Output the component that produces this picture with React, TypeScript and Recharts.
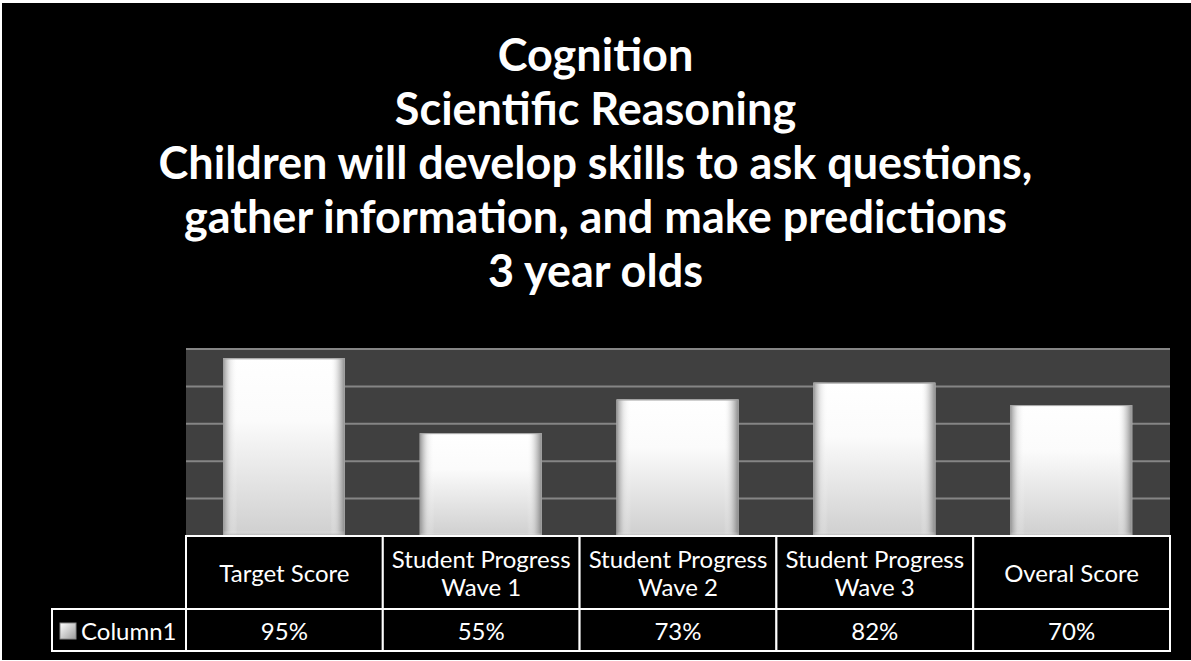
import { BarChart, Bar, XAxis, YAxis, CartesianGrid } from 'recharts';

const titleLines = [
  'Cognition',
  'Scientific Reasoning',
  'Children will develop skills to ask questions,',
  'gather information, and make predictions',
  '3 year olds',
];

const categories = [
  'Target Score',
  'Student Progress Wave 1',
  'Student Progress Wave 2',
  'Student Progress Wave 3',
  'Overal Score',
];
const headerLines = [
  ['Target Score'],
  ['Student Progress', 'Wave 1'],
  ['Student Progress', 'Wave 2'],
  ['Student Progress', 'Wave 3'],
  ['Overal Score'],
];
const seriesName = 'Column1';
const values = [0.95, 0.55, 0.73, 0.82, 0.7];
const valueLabels = ['95%', '55%', '73%', '82%', '70%'];
const yTicks = [0, 0.2, 0.4, 0.6, 0.8, 1];

const W = 1191;
const H = 661;
const PLOT_L = 186;
const PLOT_R = 1170;
const PLOT_T = 349;
const PLOT_B = 536;
const ROW1_B = 609;
const ROW2_B = 651;
const LEGEND_L = 52;
const FONT = 'Lato, "Open Sans", sans-serif';
const TABLE_FS = 24;

const data = categories.map((c, i) => ({ name: c, value: values[i] }));
const cellW = (PLOT_R - PLOT_L) / categories.length;

const BevelBar = (props: any) => {
  const { x, y, width, height } = props;
  if (!height) return null;
  return (
    <g>
      <rect x={x} y={y} width={width} height={height} fill="url(#barV)" />
      <rect x={x} y={y} width={width} height={height} fill="url(#barH)" />
      <rect x={x} y={y} width={width} height={height} fill="url(#barTop)" />
      <rect x={x + 0.5} y={y + 0.5} width={width - 1} height={height - 1} fill="none" stroke="#a0a0a0" strokeWidth={1} />
    </g>
  );
};

const TableTick = (props: any) => {
  const { x, index } = props;
  const left = x - cellW / 2;
  const lines = headerLines[index] || [];
  const midHeader = (PLOT_B + ROW1_B) / 2;
  const lh = 28;
  return (
    <g>
      <rect x={left} y={PLOT_B} width={cellW} height={ROW1_B - PLOT_B} fill="#000" stroke="#fff" strokeWidth={2} />
      <rect x={left} y={ROW1_B} width={cellW} height={ROW2_B - ROW1_B} fill="#000" stroke="#fff" strokeWidth={2} />
      {lines.map((l, k) => (
        <text
          key={k}
          x={x}
          y={midHeader + (k - (lines.length - 1) / 2) * lh}
          textAnchor="middle"
          dominantBaseline="central"
          fill="#fff"
          fontFamily={FONT}
          fontSize={TABLE_FS}
        >
          {l}
        </text>
      ))}
      <text
        x={x}
        y={(ROW1_B + ROW2_B) / 2}
        textAnchor="middle"
        dominantBaseline="central"
        fill="#fff"
        fontFamily={FONT}
        fontSize={TABLE_FS}
      >
        {valueLabels[index]}
      </text>
      {index === 0 && (
        <g>
          <rect x={LEGEND_L} y={ROW1_B} width={PLOT_L - LEGEND_L} height={ROW2_B - ROW1_B} fill="#000" stroke="#fff" strokeWidth={2} />
          <rect x={60} y={623} width={16} height={16} fill="url(#keyGrad)" stroke="#888" strokeWidth={1} />
          <text
            x={81}
            y={(ROW1_B + ROW2_B) / 2}
            dominantBaseline="central"
            fill="#fff"
            fontFamily={FONT}
            fontSize={TABLE_FS}
          >
            {seriesName}
          </text>
        </g>
      )}
    </g>
  );
};

export default function App() {
  return (
    <div style={{ position: 'absolute', left: 0, top: 0, width: W, height: H, background: '#fff' }}>
      <div style={{ position: 'absolute', left: 2, top: 3, width: W - 2, height: H - 4, background: '#000' }} />
      <div style={{ position: 'absolute', left: 0, top: 0 }}>
        <BarChart
          width={W}
          height={H}
          data={data}
          margin={{ top: PLOT_T, right: W - PLOT_R, left: PLOT_L, bottom: 10 }}
          barSize={122}
        >
          <defs>
            <linearGradient id="barV" x1="0" y1="0" x2="0" y2="1">
              <stop offset="0%" stopColor="#ffffff" />
              <stop offset="35%" stopColor="#fbfbfb" />
              <stop offset="100%" stopColor="#cfcfcf" />
            </linearGradient>
            <linearGradient id="barH" x1="0" y1="0" x2="1" y2="0">
              <stop offset="0%" stopColor="#8a8a8a" stopOpacity={0.9} />
              <stop offset="6%" stopColor="#d8d8d8" stopOpacity={0.5} />
              <stop offset="12%" stopColor="#ffffff" stopOpacity={0} />
              <stop offset="88%" stopColor="#ffffff" stopOpacity={0} />
              <stop offset="94%" stopColor="#c8c8c8" stopOpacity={0.6} />
              <stop offset="100%" stopColor="#7a7a7a" stopOpacity={0.9} />
            </linearGradient>
            <linearGradient id="barTop" x1="0" y1="0" x2="0" y2="1">
              <stop offset="0%" stopColor="#ffffff" stopOpacity={0} />
              <stop offset="97%" stopColor="#ffffff" stopOpacity={0} />
              <stop offset="100%" stopColor="#9a9a9a" stopOpacity={0.7} />
            </linearGradient>
            <linearGradient id="keyGrad" x1="0" y1="0" x2="1" y2="1">
              <stop offset="0%" stopColor="#ffffff" />
              <stop offset="100%" stopColor="#9a9a9a" />
            </linearGradient>
          </defs>
          <CartesianGrid
            vertical={false}
            fill="#404040"
            fillOpacity={1}
            stroke="#858585"
            strokeWidth={2}
          />
          <YAxis hide domain={[0, 1]} ticks={yTicks} />
          <XAxis
            dataKey="name"
            axisLine={false}
            tickLine={false}
            interval={0}
            height={H - PLOT_B - 10}
            tick={<TableTick />}
          />
          <Bar dataKey="value" shape={<BevelBar />} isAnimationActive={false} />
        </BarChart>
      </div>
      <div
        style={{
          position: 'absolute',
          left: 0,
          top: 27,
          width: W,
          textAlign: 'center',
          color: '#fff',
          fontFamily: FONT,
          fontWeight: 700,
          fontSize: 45,
          lineHeight: '54px',
        }}
      >
        {titleLines.map((t, i) => (
          <div key={i}>{t}</div>
        ))}
      </div>
    </div>
  );
}
